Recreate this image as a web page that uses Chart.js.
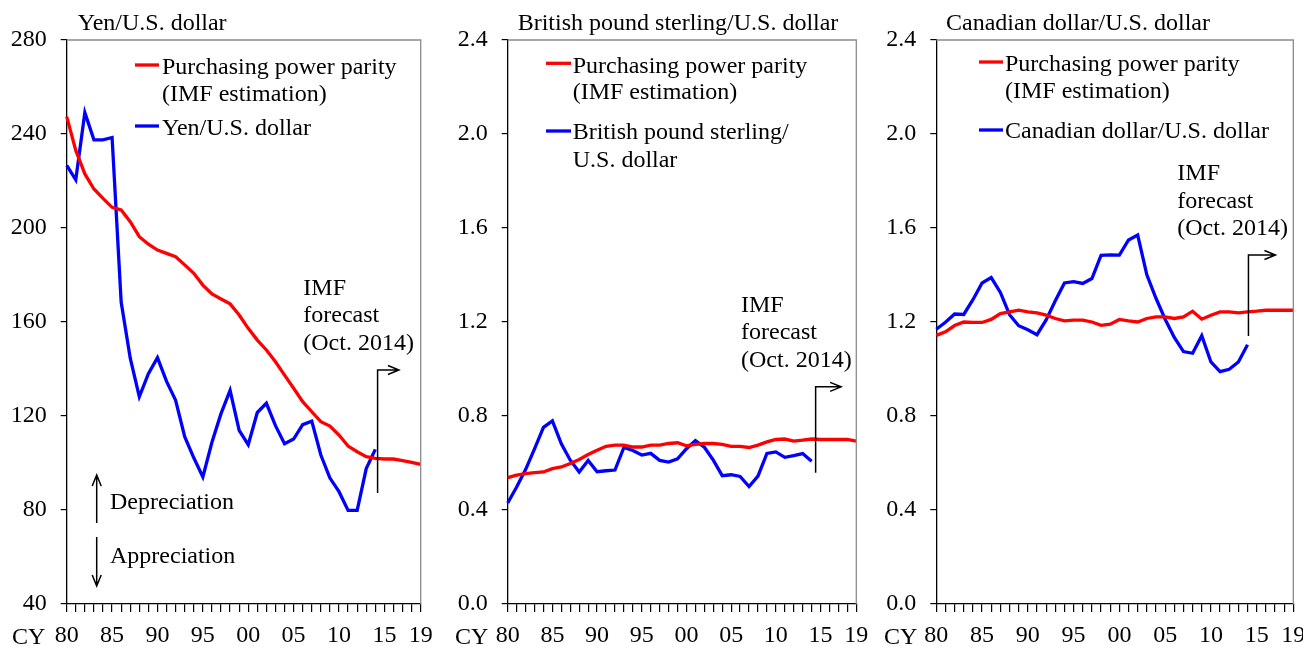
<!DOCTYPE html>
<html>
<head>
<meta charset="utf-8">
<script src="https://cdn.jsdelivr.net/npm/chart.js@4.4.1/dist/chart.umd.min.js"></script>
<style>
  html, body { margin: 0; padding: 0; background: #fff; overflow: hidden; }
  #wrap { position: relative; width: 1303px; height: 646px; overflow: hidden; }
  .panel { position: absolute; left: 0; top: 0; width: 1340px; height: 646px; }
</style>
</head>
<body>
<div id="wrap">
  <div class="panel"><canvas id="yen"></canvas></div>
  <div class="panel"><canvas id="gbp"></canvas></div>
  <div class="panel"><canvas id="cad"></canvas></div>
</div>
<script>
// calendar years on the x axis
const years = ['1980','1981','1982','1983','1984','1985','1986','1987','1988','1989',
  '1990','1991','1992','1993','1994','1995','1996','1997','1998','1999',
  '2000','2001','2002','2003','2004','2005','2006','2007','2008','2009',
  '2010','2011','2012','2013','2014','2015','2016','2017','2018','2019'];
const yearLabels = { '1980': '80', '1985': '85', '1990': '90', '1995': '95', '2000': '00',
  '2005': '05', '2010': '10', '2015': '15', '2019': '19' };

// Yen / U.S. dollar
const yenPPP = [247.4, 233, 223, 216.6, 212.6, 208.8, 207.7, 202.7, 196.3, 193.1,
  190.6, 189.2, 187.8, 184.3, 180.7, 175.7, 171.9, 169.8, 167.7, 163,
  157.3, 152.3, 148.1, 143.1, 137.4, 131.8, 126.1, 121.8, 117.6, 115.7,
  111.9, 107.2, 104.8, 102.7, 102, 101.7, 101.7, 101, 100.3, 99.4];
const yenRate = [226.7, 220.5, 249.1, 237.5, 237.5, 238.5, 168.5, 144.6, 128.2, 138,
  144.8, 134.7, 126.7, 111.2, 102.2, 94.1, 108.8, 121, 130.9, 113.9,
  107.8, 121.5, 125.4, 115.9, 108.2, 110.2, 116.3, 117.8, 103.4, 93.6,
  87.8, 79.8, 79.8, 97.6, 105.8];

// British pound sterling / U.S. dollar
const gbpPPP = [0.538, 0.548, 0.555, 0.559, 0.562, 0.576, 0.583, 0.598, 0.615, 0.636,
  0.654, 0.671, 0.676, 0.676, 0.668, 0.668, 0.676, 0.676, 0.683, 0.686,
  0.673, 0.679, 0.683, 0.683, 0.679, 0.671, 0.671, 0.666, 0.676, 0.690,
  0.700, 0.702, 0.693, 0.697, 0.702, 0.700, 0.700, 0.700, 0.700, 0.693];
const gbpRate = [0.43, 0.498, 0.572, 0.66, 0.752, 0.779, 0.682, 0.612, 0.562, 0.611,
  0.563, 0.567, 0.570, 0.666, 0.653, 0.634, 0.641, 0.611, 0.604, 0.618,
  0.661, 0.695, 0.667, 0.612, 0.546, 0.550, 0.543, 0.500, 0.544, 0.641,
  0.647, 0.624, 0.631, 0.640, 0.607];

// Canadian dollar / U.S. dollar
const cadPPP = [1.143, 1.158, 1.185, 1.200, 1.198, 1.198, 1.211, 1.236, 1.243, 1.250,
  1.243, 1.239, 1.229, 1.215, 1.205, 1.208, 1.208, 1.200, 1.186, 1.191,
  1.211, 1.205, 1.200, 1.215, 1.222, 1.222, 1.215, 1.222, 1.246, 1.212,
  1.229, 1.243, 1.243, 1.239, 1.243, 1.246, 1.250, 1.250, 1.250, 1.250];
const cadRate = [1.169, 1.199, 1.234, 1.232, 1.295, 1.366, 1.389, 1.326, 1.231, 1.184,
  1.167, 1.146, 1.209, 1.290, 1.366, 1.372, 1.364, 1.385, 1.484, 1.486,
  1.485, 1.549, 1.570, 1.401, 1.301, 1.212, 1.134, 1.074, 1.067, 1.142,
  1.030, 0.989, 0.999, 1.030, 1.103];

const FONT = 'Liberation Serif, Times New Roman, serif';
const RED = '#ff0000';
const BLUE = '#0000ff';
const AXIS_W = 60;
const CANVAS_W = 1340;

// draws titles, legends, notes and arrows for each panel
const notesPlugin = {
  id: 'notes',
  afterDraw(chart, args, opts) {
    const ctx = chart.ctx;
    const a = chart.chartArea;
    const xs = chart.scales.x, ys = chart.scales.y;
    ctx.save();
    // grey frame on top and right
    ctx.strokeStyle = '#8a8a8a';
    ctx.lineWidth = 1.3;
    ctx.beginPath();
    ctx.moveTo(a.left, a.top);
    ctx.lineTo(a.right, a.top);
    ctx.lineTo(a.right, a.bottom);
    ctx.stroke();

    ctx.fillStyle = '#000';
    ctx.textBaseline = 'alphabetic';
    ctx.textAlign = 'left';
    ctx.font = '24px ' + FONT;
    (opts.texts || []).forEach(t => ctx.fillText(t[0], t[1], t[2]));

    // legend swatches
    ctx.lineWidth = 3.3;
    (opts.swatches || []).forEach(s => {
      ctx.strokeStyle = s[0];
      ctx.beginPath();
      ctx.moveTo(s[1], s[3]);
      ctx.lineTo(s[2], s[3]);
      ctx.stroke();
    });

    // forecast arrow
    ctx.strokeStyle = '#000';
    ctx.lineWidth = 1.5;
    const f = opts.forecast;
    if (f) {
      const x0 = xs.left + (xs.right - xs.left) * f.from / (years.length - 1);
      const x1 = xs.left + (xs.right - xs.left) * f.to / (years.length - 1);
      const yb = ys.getPixelForValue(f.bottom), yt = ys.getPixelForValue(f.top);
      ctx.beginPath();
      ctx.moveTo(x0, yb);
      ctx.lineTo(x0, yt);
      ctx.lineTo(x1, yt);
      ctx.moveTo(x1 - 11, yt - 4.5);
      ctx.lineTo(x1, yt);
      ctx.lineTo(x1 - 11, yt + 4.5);
      ctx.stroke();
    }
    // depreciation / appreciation arrows
    (opts.vArrows || []).forEach(v => {
      const dir = v[2] < v[1] ? 1 : -1;
      ctx.beginPath();
      ctx.moveTo(v[0], v[1]);
      ctx.lineTo(v[0], v[2]);
      ctx.moveTo(v[0] - 4.5, v[2] + dir * 11);
      ctx.lineTo(v[0], v[2]);
      ctx.lineTo(v[0] + 4.5, v[2] + dir * 11);
      ctx.stroke();
    });
    if (opts.cy) {
      ctx.fillText('CY', opts.cy[0], opts.cy[1]);
    }
    ctx.restore();
  }
};

function makeChart(id, ppp, rate, yMin, yMax, yStep, decimals, plotLeft, plotRight, notes) {
  const ctx = document.getElementById(id).getContext('2d');
  return new Chart(ctx, {
    type: 'line',
    data: {
      labels: years,
      datasets: [
        {
          data: ppp,
          borderColor: RED,
          borderWidth: 3.3,
          pointRadius: 0,
          tension: 0,
          fill: false
        },
        {
          data: rate,
          borderColor: BLUE,
          borderWidth: 3.3,
          pointRadius: 0,
          tension: 0,
          fill: false
        }
      ]
    },
    options: {
      responsive: true,
      maintainAspectRatio: false,
      animation: false,
      events: [],
      layout: { padding: { top: 40, left: plotLeft - AXIS_W, right: CANVAS_W - plotRight, bottom: 0 } },
      plugins: {
        legend: { display: false },
        tooltip: { enabled: false },
        notes: notes
      },
      scales: {
        x: {
          type: 'category',
          offset: false,
          afterFit: s => { s.height = 42; },
          border: { display: true, color: '#000', width: 1.3 },
          grid: { drawOnChartArea: false, drawTicks: true, tickLength: 8, color: '#000', lineWidth: 1.2 },
          ticks: {
            autoSkip: false,
            maxRotation: 0,
            padding: 9,
            color: '#000',
            font: { family: FONT, size: 24 },
            callback: function (v, i) { return yearLabels[years[i]] || ''; }
          }
        },
        y: {
          min: yMin,
          max: yMax,
          afterFit: s => { s.width = AXIS_W; },
          border: { display: true, color: '#000', width: 1.3 },
          grid: { drawOnChartArea: false, drawTicks: true, tickLength: 6, color: '#000', lineWidth: 1.2 },
          ticks: {
            stepSize: yStep,
            padding: 14,
            color: '#000',
            font: { family: FONT, size: 24 },
            callback: v => v.toFixed(decimals)
          }
        }
      }
    },
    plugins: [notesPlugin]
  });
}

makeChart('yen', yenPPP, yenRate, 40, 280, 40, 0, 66.7, 420.7, {
  texts: [
    ['Yen/U.S. dollar', 77.7, 30],
    ['Purchasing power parity', 162, 74],
    ['(IMF estimation)', 162, 101],
    ['Yen/U.S. dollar', 162, 135],
    ['IMF', 303.3, 295],
    ['forecast', 303.3, 322],
    ['(Oct. 2014)', 303.3, 350],
    ['Depreciation', 110, 509],
    ['Appreciation', 110, 563]
  ],
  swatches: [[RED, 135, 159, 65], [BLUE, 135, 159, 126]],
  forecast: { from: 34.25, to: 36.6, bottom: 87.2, top: 139.6 },
  vArrows: [[96.7, 523, 475], [96.7, 537, 586]],
  cy: [12, 644]
});

makeChart('gbp', gbpPPP, gbpRate, 0, 2.4, 0.4, 1, 507.7, 856.3, {
  texts: [
    ['British pound sterling/U.S. dollar', 517.7, 30],
    ['Purchasing power parity', 572.7, 73],
    ['(IMF estimation)', 572.7, 99.3],
    ['British pound sterling/', 572.7, 139.3],
    ['U.S. dollar', 572.7, 166.7],
    ['IMF', 741, 311.7],
    ['forecast', 741, 339.3],
    ['(Oct. 2014)', 741, 366.7]
  ],
  swatches: [[RED, 546, 571, 63.3], [BLUE, 546, 571, 131]],
  forecast: { from: 34.45, to: 37.3, bottom: 0.558, top: 0.924 },
  cy: [455, 644]
});

makeChart('cad', cadPPP, cadRate, 0, 2.4, 0.4, 1, 936.3, 1293.3, {
  texts: [
    ['Canadian dollar/U.S. dollar', 946, 30],
    ['Purchasing power parity', 1005, 70.7],
    ['(IMF estimation)', 1005, 97.7],
    ['Canadian dollar/U.S. dollar', 1005, 138.3],
    ['IMF', 1177.3, 180],
    ['forecast', 1177.3, 208.3],
    ['(Oct. 2014)', 1177.3, 235]
  ],
  swatches: [[RED, 979, 1003, 62], [BLUE, 979, 1003, 130]],
  forecast: { from: 34.1, to: 37.05, bottom: 1.14, top: 1.485 },
  cy: [884, 644]
});
</script>
</body>
</html>
